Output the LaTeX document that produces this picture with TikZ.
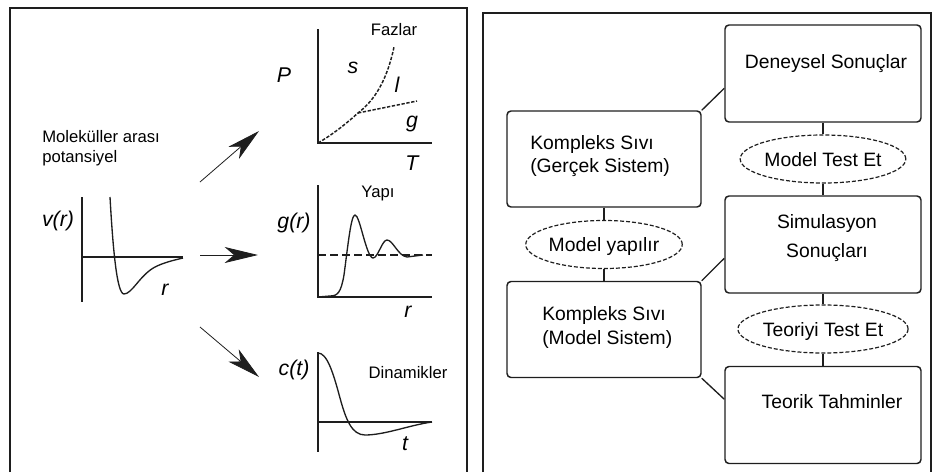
\documentclass[tikz,border=0pt]{standalone}
\usepackage{fontspec}
\setmainfont{Liberation Sans}
\usetikzlibrary{arrows.meta,positioning,calc,shapes.geometric}
\definecolor{ink}{HTML}{1E1E1E}

\begin{document}
\begin{tikzpicture}[x=0.75pt,y=-0.75pt,
  fr/.style={draw=ink,line width=1.4pt},
  ax/.style={draw=ink,line width=1.2pt},
  cv/.style={draw=ink,line width=1pt},
  ph/.style={cv,line width=1.1pt,dash pattern=on 2.5pt off 1.2pt},
  ar/.style={-{Stealth[length=25pt,width=12pt,inset=7pt]},draw=ink,line width=0.6pt},
  lb/.style={font=\fontsize{16}{18}\selectfont\itshape,inner sep=0pt,anchor=base},
  sm/.style={font=\fontsize{12.5}{15}\selectfont,inner sep=0pt,anchor=base},
  bx/.style={draw=ink,line width=1.1pt,rounded corners=3pt,minimum width=147pt,minimum height=72.75pt},
  tx/.style={font=\fontsize{14.5}{18}\selectfont,inner sep=0pt,anchor=base},
  ov/.style={ellipse,draw=ink,line width=0.9pt,dash pattern=on 3pt off 1.5pt,minimum width=110pt,minimum height=36pt,inner sep=0pt,font=\fontsize{14.5}{18}\selectfont,text height=10.5pt,text depth=0pt},
  ln/.style={draw=ink,line width=1pt}]
\useasboundingbox (0,0) rectangle (933,472);

% left panel
\draw[fr] (10,472) -- (10,8) -- (467,8) -- (467,472);
\node[sm,anchor=base west] (mol1) at (42,142) {Moleküller arası};
\node[sm,anchor=base west] (mol2) at (42,162) {potansiyel};

\draw[ax] (82,197) -- (82,302);
\draw[ax] (82,257) -- (183,257);
\draw[cv] (110,197) .. controls (113,250) and (117,294) .. (124,294) .. controls (132,294) and (140,275) .. (155,267) .. controls (165,262) and (175,260) .. (183,258);
\node[lb] (vr) at (58,226) {v(r)};
\node[lb] (vrx) at (165,295) {r};

\coordinate (up0) at (200,182);  \coordinate (up1) at (259,131);
\coordinate (mid0) at (200,255); \coordinate (mid1) at (258,255);
\coordinate (lo0) at (200,327);  \coordinate (lo1) at (259,377);
\draw[ar] (up0) -- (up1);
\draw[ar] (mid0) -- (mid1);
\draw[ar] (lo0) -- (lo1);

\draw[ax] (318,29) -- (318,143) -- (432,143);
\draw[ph] (318,143) .. controls (335,133) and (348,122) .. (358,113) coordinate (tp) .. controls (375,100) and (387,80) .. (394,47);
\draw[ph] (tp) -- (417,101);
\node[sm] (faz) at (394,35) {Fazlar};
\node[lb] (pP) at (284,82) {P};
\node[lb] (pS) at (353,73) {s};
\node[lb] (pL) at (397,92) {l};
\node[lb] (pG) at (412,127) {g};
\node[lb] (pT) at (412,170) {T};

\draw[ax] (318,185) -- (318,297) -- (432,297);
\draw[cv,dash pattern=on 6pt off 3pt] (318,255) -- (432,255);
\draw[cv] (318,297) -- (330,296) .. controls (338,296) and (341,292) .. (344,275) .. controls (348,245) and (351,215) .. (355,215) .. controls (360,215) and (366,257) .. (373,258) .. controls (378,258) and (382,240) .. (387,240) .. controls (393,240) and (398,256) .. (407,257) -- (423,255);
\node[sm] (yap) at (378,197) {Yapı};
\node[lb] (gr) at (294,228) {g(r)};
\node[lb] (grx) at (408,317) {r};

\draw[ax] (318,352) -- (318,452);
\draw[ax] (318,422) -- (432,422);
\draw[cv] (318,353) .. controls (327,353) and (333,372) .. (340,398) .. controls (346,420) and (352,435) .. (365,435) .. controls (385,435) and (410,425) .. (432,422);
\node[lb] (ct) at (294,375) {c(t)};
\node[sm] (din) at (408,378) {Dinamikler};
\node[lb] (ctx) at (405,450) {t};

% right panel
\draw[fr] (483,472) -- (483,13) -- (931,13) -- (931,472);
\node[bx] (den) at (823,73.5) {};
\node[bx] (sim) at (823,244.5) {};
\node[bx] (teo) at (823,415) {};
\node[bx,minimum width=145.5pt,minimum height=72pt] (ger) at (604,159) {};
\node[bx,minimum width=145.5pt,minimum height=72pt] (mod) at (604,329.5) {};
\node[ov] (mte) at (823,159) {Model Test Et};
\node[ov] (tte) at (823,329) {Teoriyi Test Et};
\node[ov] (myp) at (604,244.5) {Model yapılır};

\node[tx] (dent) at (826,68) {Deneysel Sonuçlar};
\node[tx] (sim1) at (827,228) {Simulasyon};
\node[tx] (sim2) at (827,257) {Sonuçları};
\node[tx] (teot) at (832,408) {Teorik Tahminler};
\node[tx,anchor=base west] (ger1) at (530,149) {Kompleks Sıvı};
\node[tx,anchor=base west] (ger2) at (530,172) {(Gerçek Sistem)};
\node[tx,anchor=base west] (mod1) at (542,320) {Kompleks Sıvı};
\node[tx,anchor=base west] (mod2) at (542,344) {(Model Sistem)};

\draw[ln] (den) -- (mte);
\draw[ln] (mte) -- (sim);
\draw[ln] (sim) -- (tte);
\draw[ln] (tte) -- (teo);
\draw[ln] (ger) -- (myp);
\draw[ln] (myp) -- (mod);
\draw[ln] (ger.north east) -- ($(den.north west)!0.65!(den.south west)$);
\draw[ln] (mod.north east) -- ($(sim.north west)!0.64!(sim.south west)$);
\draw[ln] (mod.south east) -- ($(teo.north west)!0.34!(teo.south west)$);
\end{tikzpicture}
\end{document}
